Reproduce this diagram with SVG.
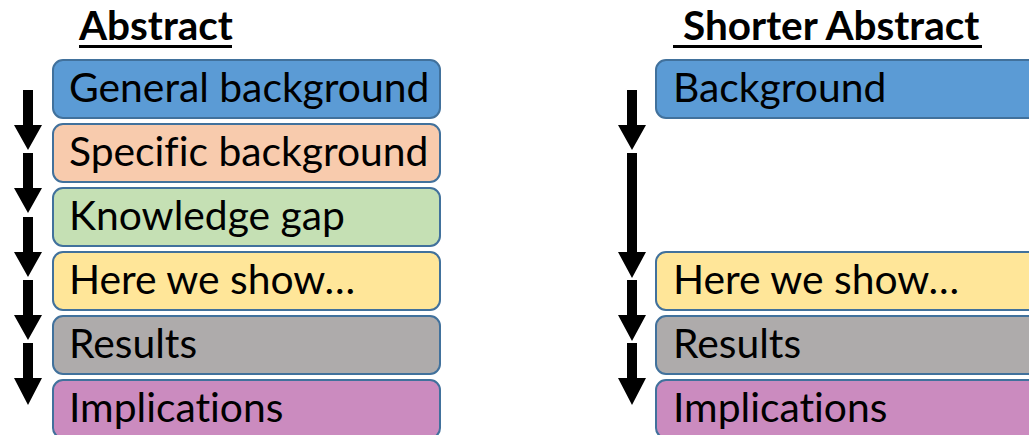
<svg xmlns="http://www.w3.org/2000/svg" width="1029" height="435" viewBox="0 0 1029 435">
<defs>
<style>
.box{stroke:#41719C;stroke-width:2}
.lbl{font-family:Lato,"Liberation Sans",sans-serif;font-size:40.8px;fill:#000;font-variant-ligatures:none}
.ttl{font-family:Lato,"Liberation Sans",sans-serif;font-size:40.5px;font-weight:bold;fill:#000;font-variant-ligatures:none}
.arr{fill:#000}
</style>
</defs>
<rect width="1029" height="435" fill="#fff"/>
<g id="title-left"><text class="ttl" x="79" y="40">Abstract</text><rect x="79" y="45" width="153" height="3" fill="#000"/></g>
<g id="title-right"><text class="ttl" x="683" y="40">Shorter Abstract</text><rect x="673" y="45" width="309" height="3" fill="#000"/></g>
<g id="l1"><rect class="box" x="53" y="60" width="387" height="58" rx="10" fill="#5B9BD5"/><text class="lbl" x="69" y="102">General background</text></g>
<g id="l2"><rect class="box" x="53" y="124" width="387" height="58" rx="10" fill="#F8CBAD"/><text class="lbl" x="69" y="166">Specific background</text></g>
<g id="l3"><rect class="box" x="53" y="188" width="387" height="58" rx="10" fill="#C5E0B4"/><text class="lbl" x="69" y="230">Knowledge gap</text></g>
<g id="l4"><rect class="box" x="53" y="252" width="387" height="58" rx="10" fill="#FFE699"/><text class="lbl" x="69" y="294">Here we show…</text></g>
<g id="l5"><rect class="box" x="53" y="316" width="387" height="58" rx="10" fill="#AEABAB"/><text class="lbl" x="69" y="358">Results</text></g>
<g id="l6"><rect class="box" x="53" y="380" width="387" height="58" rx="10" fill="#CB8BBF"/><text class="lbl" x="69" y="422">Implications</text></g>
<g id="r1"><rect class="box" x="656" y="60" width="390" height="58" rx="10" fill="#5B9BD5"/><text class="lbl" x="673" y="102">Background</text></g>
<g id="r4"><rect class="box" x="656" y="252" width="390" height="58" rx="10" fill="#FFE699"/><text class="lbl" x="673" y="294">Here we show…</text></g>
<g id="r5"><rect class="box" x="656" y="316" width="390" height="58" rx="10" fill="#AEABAB"/><text class="lbl" x="673" y="358">Results</text></g>
<g id="r6"><rect class="box" x="656" y="380" width="390" height="58" rx="10" fill="#CB8BBF"/><text class="lbl" x="673" y="422">Implications</text></g>
<g id="connectors" class="arr">
<path d="M23 90H33V125H42L28 150L14 125H23Z"/>
<path d="M23 153H33V188H42L28 213L14 188H23Z"/>
<path d="M23 217H33V252H42L28 277L14 252H23Z"/>
<path d="M23 280H33V315H42L28 340L14 315H23Z"/>
<path d="M23 343H33V378H42L28 405L14 378H23Z"/>
<path d="M627 90H637V125H646L632 150L618 125H627Z"/>
<path d="M627 153H637V252H646L632 278L618 252H627Z"/>
<path d="M627 280H637V315H646L632 341L618 315H627Z"/>
<path d="M627 343H637V378H646L632 405L618 378H627Z"/>
</g>
</svg>
